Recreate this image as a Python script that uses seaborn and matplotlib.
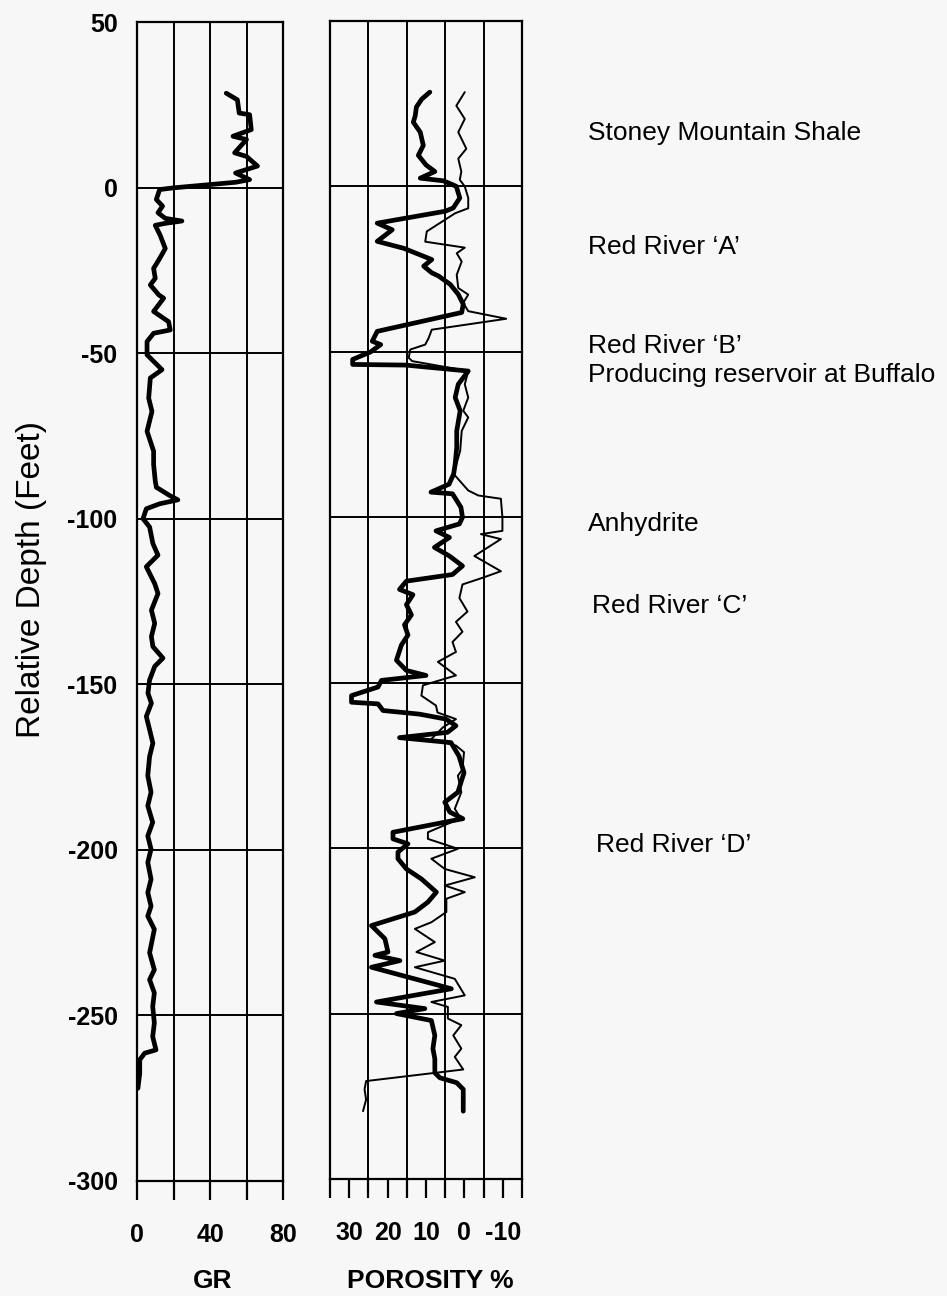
import numpy as np
import pandas as pd
import matplotlib
matplotlib.use("Agg")
import matplotlib.pyplot as plt
import seaborn as sns

# ---------------- data ----------------
gr_depth = [28.5, 26.5, 22.5, 22, 17.5, 15.5, 14.5, 10.5, 9.4, 6.5, 4.4, 2.4, 1.6, -0.1, -0.6,
            -3.6, -5.6, -7.6, -9.3, -10.1, -10.8, -11.4, -14.4, -18.4, -21.9, -24.4, -27.4,
            -29.4, -32.4, -33.4, -37.4, -40.5, -43, -44, -46.5, -50.5, -55, -57.5, -63.6,
            -67.6, -73.6, -79.6, -83.6, -88.6, -90.5, -93, -94.3, -95.5, -97, -100, -102.5,
            -107.5, -111, -114.5, -119.6, -122.6, -127.6, -131.6, -135.6, -138.6, -142.1,
            -144.6, -148.7, -152.7, -155.7, -159.7, -163.7, -167.8, -171.8, -177.6, -182.6,
            -186.7, -191.7, -195.8, -199.8, -203.8, -208.9, -212.9, -217, -220, -224, -231.1,
            -236.2, -239.2, -243.2, -247.3, -252.3, -256.4, -260.4, -261.4, -263.4, -267.5, -272]
gr_value = [48.9, 55, 56, 61.7, 62.6, 52.6, 60, 53.5, 60, 66, 54, 61.7, 54, 19.7, 12.4,
            10.6, 14, 11.5, 15.5, 24.6, 15.5, 10, 12.7, 15.5, 11.9, 9.1, 10,
            7.3, 11.9, 14.6, 9.1, 17.3, 18.2, 9.1, 5.5, 5.5, 13.7, 7.3, 6.4,
            8.2, 5.5, 9.1, 9.1, 10, 10.6, 17.9, 22.4, 12.4, 5.1, 3.3, 6.9,
            8.7, 11.5, 5.1, 9.7, 11.5, 7.9, 9.7, 7.9, 8.7, 14.2,
            9.7, 6.9, 6, 7.9, 5.1, 6.9, 8.7, 6.9, 5.9, 7.7,
            5.9, 8.6, 5.9, 7.7, 5.9, 7.7, 5.9, 7.7, 5.9, 9.5, 6.9,
            9.5, 6.9, 9.5, 8.6, 9.5, 8.6, 10.4, 4.2, 1.5, 1.5, 0.5]

thick_depth = [28.5, 26.4, 24, 21.4, 19.4, 16.4, 12.4, 9.4, 6.5, 4.5, 2.5, 1.7, 0.5, 0, -3.5,
               -6.5, -7.5, -11.1, -13.1, -16.6, -18.7, -22.1, -24.1, -26.1, -27.1, -29.6, -32.6,
               -35.6, -38.1, -43.8, -46.8, -47.8, -50, -52.3, -53.8, -54.0, -55.8, -59.8, -63.8,
               -67.8, -73.9, -78.9, -83.9, -86.9, -90, -92.4, -92.9, -97, -100, -102, -104.1,
               -106.1, -109.1, -111.7, -114.7, -117.3, -119.3, -121.8, -123.4, -126.4, -129.5,
               -132.5, -135.6, -138.6, -143.2, -146.3, -147.8, -149.3, -151.3, -153.9, -155.9,
               -156.4, -158.4, -159.5, -161, -163, -165, -166.6, -168.1, -172.2, -177.2, -183.1,
               -186.1, -189.1, -191.1, -195.2, -197.2, -198.7, -201.2, -203.2, -206.3, -209.3,
               -213.3, -216.3, -219.3, -223.4, -227.4, -231.4, -232.4, -234, -236, -242.5,
               -246.5, -248.5, -250, -252.1, -256.6, -260.6, -263.7, -267.9, -269.4, -270.9,
               -272.9, -279.5]
thick_value = [9, 11.1, 12.5, 12.8, 13.3, 11.5, 10.7, 12, 10, 7.7, 11.5, 5.5, 3, 2.1, 1.2,
               2.9, 5, 22.7, 18.8, 22.7, 15.8, 8.5, 10.6, 8.5, 6.7, 3.7, 1.6,
               0.3, 0.7, 22.7, 24, 21.8, 24.4, 29.1, 29.1, 15.3, -1, 1.6, 2.4,
               1.1, 2, 2, 2.4, 2.8, 4, 8.7, 3.1, 0.9, 0.5, 1.3, 7.4,
               3.9, 7.8, 3.9, 0.5, 3.1, 15.1, 16.9, 13.4, 15.1, 13.8,
               15.6, 14.7, 16.4, 17.7, 15.1, 10, 21.6, 22.5, 29.4, 29.4,
               22.5, 21.2, 11.7, 4.8, 2.2, 4.4, 16.9, 3.5, 1.4, 0.1, 1.7,
               5.1, 3.8, 0.4, 18.6, 18.6, 14.7, 17.3, 17.3, 15.1, 11.2,
               7.3, 9.5, 12.9, 24.2, 20.7, 19.9, 23.3, 16.8, 24.2, 3.4,
               22.9, 10.3, 17.7, 8.6, 7.7, 8.2, 7.7, 7.7, 6.4, 2,
               0.3, 0.3]

thin_depth = [28.5, 24.4, 20.4, 16.4, 11.4, 8.4, 4.5, 2, 0, -3.5, -6.6, -8.1, -13.6, -16.7,
              -18.5, -20.2, -22.7, -26.7, -30.7, -32.7, -35.2, -37.7, -40, -43.3, -45.8, -47.8,
              -49.3, -51.8, -52.8, -55.8, -59.8, -63.8, -67.8, -69.8, -73.9, -79.9, -86.9, -91.9,
              -93.4, -94.4, -100, -104.1, -105.1, -106.6, -111.7, -116.3, -118.3, -120.3, -124.4,
              -128.5, -131.6, -134.6, -137.7, -140.7, -143.7, -147.8, -150.8, -153.9, -156.9,
              -159, -161, -163.5, -167.6, -168, -169, -171, -176.2, -178.1, -183.1, -188.1, -191,
              -195.2, -197.2, -200.2, -203.2, -206.3, -208.8, -211.3, -213.3, -215.3, -219.3,
              -222.4, -224.4, -228.4, -231.4, -234, -236, -239.5, -244.5, -246.5, -248, -251.5,
              -253.5, -256.6, -260.6, -263.1, -266.9, -270.4, -272.9, -276, -279.5]
thin_value = [-0.1, 2.1, -0.1, 1.6, -0.5, 1.6, 0.8, 1.2, -0.1, -1, -1, 2.4, 9.8, 10.2,
              -0.1, 2, 0.7, 2, 1.6, -1, 0.3, -1, -10.9, 8.5, 9.3, 10.2,
              14.1, 14.5, 13.6, -1, -0.1, -1, 0.3, -1, 0.7, 1.1, 2.8, -1,
              -3.6, -9.5, -9.9, -9.9, -4.3, -9.5, -2.6, -9.5, -4.7, 0.5, 1.3,
              -0.8, 2.2, 0.5, 3.1, 2.2, 6.9, 2.2, 10.8, 11.2, 7.4,
              7, 2.2, 5.6, 9.1, 5.6, 2.2, 0.1, 0.5, 1.7, 0.8, 2.5, 1,
              9.5, 9.5, 1.7, 8.6, 5.1, -2.7, 5.1, -0.1, 4.7, 4.7,
              8.6, 12.9, 7.7, 12.5, 5.1, 12.9, 2.5, -0.1, 8.6, 4.3, 4.3,
              0.8, 2.9, 0.8, 2.5, 0.3, 25.6, 26, 25.6, 26.4]

depth_ticks = [50, 0, -50, -100, -150, -200, -250, -300]
gr_ticks = [0, 20, 40, 60, 80]
gr_ticklabels = ["0", "", "40", "", "80"]
por_ticks = [30, 20, 10, 0, -10]
por_ticklabels = ["30", "20", "10", "0", "-10"]
por_grid = [35, 25, 15, 5, -5, -15]

zones = ["Stoney Mountain Shale", "Red River \u2018A\u2019", "Red River \u2018B\u2019",
         "Producing reservoir at Buffalo", "Anhydrite", "Red River \u2018C\u2019",
         "Red River \u2018D\u2019"]
zone_px = [(588, 133), (588, 247), (588, 346), (588, 375), (588, 524), (592, 606), (596, 845)]

# ---------------- style ----------------
sns.set_theme(style="white")
plt.rcParams['font.family'] = ['Liberation Sans', 'DejaVu Sans']
plt.rcParams['text.color'] = 'black'
plt.rcParams['xtick.color'] = 'black'
plt.rcParams['ytick.color'] = 'black'
plt.rcParams['axes.labelcolor'] = 'black'
NARROW = ['Liberation Sans Narrow', 'Liberation Sans', 'DejaVu Sans']
BG = "#f7f7f7"

W, H = 947, 1296
fig = plt.figure(figsize=(W / 100, H / 100), dpi=100, facecolor=BG)

def rect(l, t, r, b):
    return [l / W, 1 - b / H, (r - l) / W, (b - t) / H]

ax1 = fig.add_axes(rect(137, 22, 283, 1181))
ax2 = fig.add_axes(rect(330, 21, 522, 1179))

gr_df = pd.DataFrame({"depth": gr_depth, "GR": gr_value})
thick_df = pd.DataFrame({"depth": thick_depth, "por": thick_value})
thin_df = pd.DataFrame({"depth": thin_depth, "por": thin_value})

sns.lineplot(data=gr_df, x="GR", y="depth", sort=False, estimator=None, color="black",
             lw=3.4, ax=ax1, legend=False, solid_joinstyle="round", solid_capstyle="round")
sns.lineplot(data=thin_df, x="por", y="depth", sort=False, estimator=None, color="black",
             lw=1.4, ax=ax2, legend=False, solid_joinstyle="round")
sns.lineplot(data=thick_df, x="por", y="depth", sort=False, estimator=None, color="black",
             lw=3.4, ax=ax2, legend=False, solid_joinstyle="round", solid_capstyle="round")

for ax in (ax1, ax2):
    ax.set_facecolor(BG)
    ax.set_ylim(-300, 50)
    ax.set_yticks(depth_ticks)
    ax.set_xlabel("")
    ax.set_ylabel("")
    for s in ax.spines.values():
        s.set_visible(True)
        s.set_color("black")
        s.set_linewidth(1.6)
    ax.tick_params(axis="x", direction="out", length=14, width=1.6, color="black",
                   labelsize=18, pad=16, bottom=True, top=False)
    ax.tick_params(axis="y", length=0, labelsize=18, pad=14, left=True)

ax1.set_xlim(0, 80)
ax1.set_xticks(gr_ticks)
ax1.set_xticklabels(gr_ticklabels)
ax1.set_yticklabels([str(t) for t in depth_ticks])
ax1.grid(True, which="major", color="black", lw=1.4)

ax2.set_xlim(35, -15)
ax2.set_xticks(por_ticks)
ax2.set_xticklabels(por_ticklabels)
ax2.set_xticks(por_grid, minor=True)
ax2.tick_params(axis="x", which="minor", direction="out", length=14, width=1.6,
                color="black", bottom=True)
ax2.set_yticklabels([])
ax2.grid(True, which="minor", axis="x", color="black", lw=1.4)
ax2.grid(True, which="major", axis="y", color="black", lw=1.4)
ax2.grid(False, which="major", axis="x")

for ax in (ax1, ax2):
    for lab in ax.get_xticklabels() + ax.get_yticklabels():
        lab.set_fontweight("bold")
        lab.set_family(NARROW)
        lab.set_color("black")

fig.text(32 / W, 1 - 580 / H, "Relative Depth (Feet)", rotation=90, ha="center",
         va="center", fontsize=24)
fig.text(213 / W, 1 - 1281 / H, "GR", ha="center", va="center", fontsize=19,
         fontweight="bold")
fig.text(430 / W, 1 - 1281 / H, "POROSITY %", ha="center", va="center", fontsize=19,
         fontweight="bold")

for name, (px, py) in zip(zones, zone_px):
    fig.text(px / W, 1 - py / H, name, ha="left", va="center", fontsize=19)

fig.savefig("out.png", dpi=100, facecolor=BG)
